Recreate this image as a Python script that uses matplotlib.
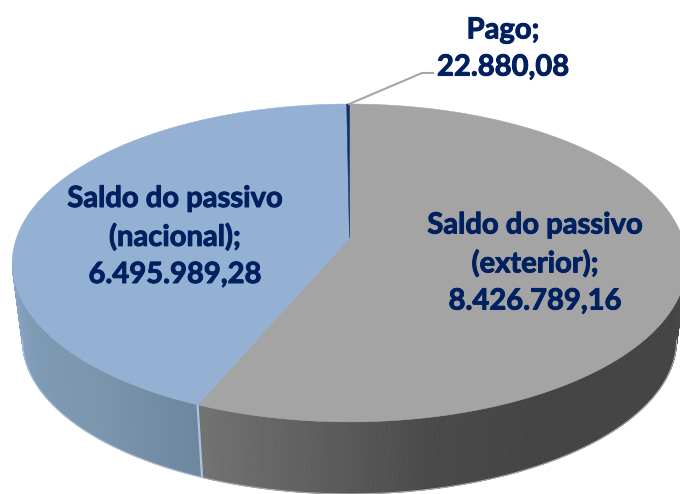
import numpy as np
import matplotlib
matplotlib.use("Agg")
import matplotlib.pyplot as plt
import matplotlib.patheffects as pe
from matplotlib.collections import PolyCollection
from matplotlib.colors import LinearSegmentedColormap

# data
names = ["Saldo do passivo\n(exterior)", "Saldo do passivo\n(nacional)", "Pago"]
values = [8426789.16, 6495989.28, 22880.08]
value_labels = ["8.426.789,16", "6.495.989,28", "22.880,08"]

# styles
top_colors = ["#a4a4a4", "#94b1d3", "#0f2f66"]
ext_side = ["#727272", "#5f5f5f", "#4a4a4a", "#444444", "#444444", "#444444", "#4a4a4a"]
nac_side = ["#6c879f", "#7b95ad", "#7f9ab5", "#8aa5c3"]
TEXT = "#002060"
XC, YC, A, B, K = 349.5, 238.0, 333.0, 155.0, 0.157
YC2, A2, B2 = 316.0, 323.0, 150.0


def rim(theta, xc=XC, yc=YC, a=A, b=B):
    """Project clockwise-from-top pie angles (radians) into pixels."""
    u, v = np.sin(theta), -np.cos(theta)
    w = 1 - K * v
    return xc + a * u / w, yc + b * v / w


def rim_low(theta):
    return rim(theta, XC, YC2, A2, B2)


fig = plt.figure(figsize=(6.8, 4.94), dpi=100, facecolor="white")
ax = fig.add_axes([0, 0, 1, 1])
ax.set_xlim(0, 680)
ax.set_ylim(494, 0)
ax.axis("off")

edges = np.concatenate([[0], np.cumsum(values)]) / np.sum(values) * 2 * np.pi


def side(t0, t1, colors):
    cmap = LinearSegmentedColormap.from_list("s", colors)
    ts = np.linspace(t0, t1, 160)
    xa, ya = rim(ts)
    xb, yb = rim_low(ts)
    quads, cols = [], []
    for i in range(len(ts) - 1):
        quads.append([(xa[i], ya[i]), (xa[i + 1], ya[i + 1]), (xb[i + 1], yb[i + 1]), (xb[i], yb[i])])
        cols.append(cmap(i / (len(ts) - 2)))
    ax.add_collection(PolyCollection(quads, facecolors=cols, edgecolors=cols, linewidths=0.6))


# the silhouette of the drum sits where the projected rim is widest
right_end = np.pi / 2 + K
left_end = 3 * np.pi / 2 - K
side(right_end, edges[1], ext_side[::-1])
side(edges[1], left_end, nac_side)

ts = np.linspace(right_end, edges[1], 200)
ax.plot(*rim_low(ts), color="#a8a8a8", lw=0.8, zorder=2)
ts = np.linspace(edges[1], left_end, 200)
ax.plot(*rim_low(ts), color="#b4c6dc", lw=0.7, zorder=2)

# top faces
for i, c in enumerate(top_colors):
    ts = np.linspace(edges[i], edges[i + 1], 300)
    x, y = rim(ts)
    ax.fill(np.r_[XC, x], np.r_[YC, y], facecolor=c, edgecolor=c, lw=0.4, zorder=3)

# light seam on the side between exterior and nacional
xa, ya = rim(edges[1])
xb, yb = rim_low(edges[1])
ax.plot([xa, xb], [ya, yb], color="#a9c3de", lw=1.6, zorder=4, solid_capstyle="butt")

# leader line for Pago
lx, ly = rim((edges[2] + edges[3]) / 2)
ax.plot([lx + 1, 422, 433], [ly, 73, 73], color="#a6a6a6", lw=1.5, zorder=4)

# labels
font = dict(family="Lato", fontweight="bold", color=TEXT, ha="center", va="center",
            fontsize=21, linespacing=1.53, zorder=5,
            path_effects=[pe.withStroke(linewidth=0.7, foreground=TEXT)])
ax.text(535, 263.5, f"{names[0]};\n{value_labels[0]}", **font)
ax.text(175, 237, f"{names[1]};\n{value_labels[1]}", **font)
ax.text(503, 49, f"{names[2]};\n{value_labels[2]}", **font)

fig.savefig("out.png", dpi=100, facecolor="white")
